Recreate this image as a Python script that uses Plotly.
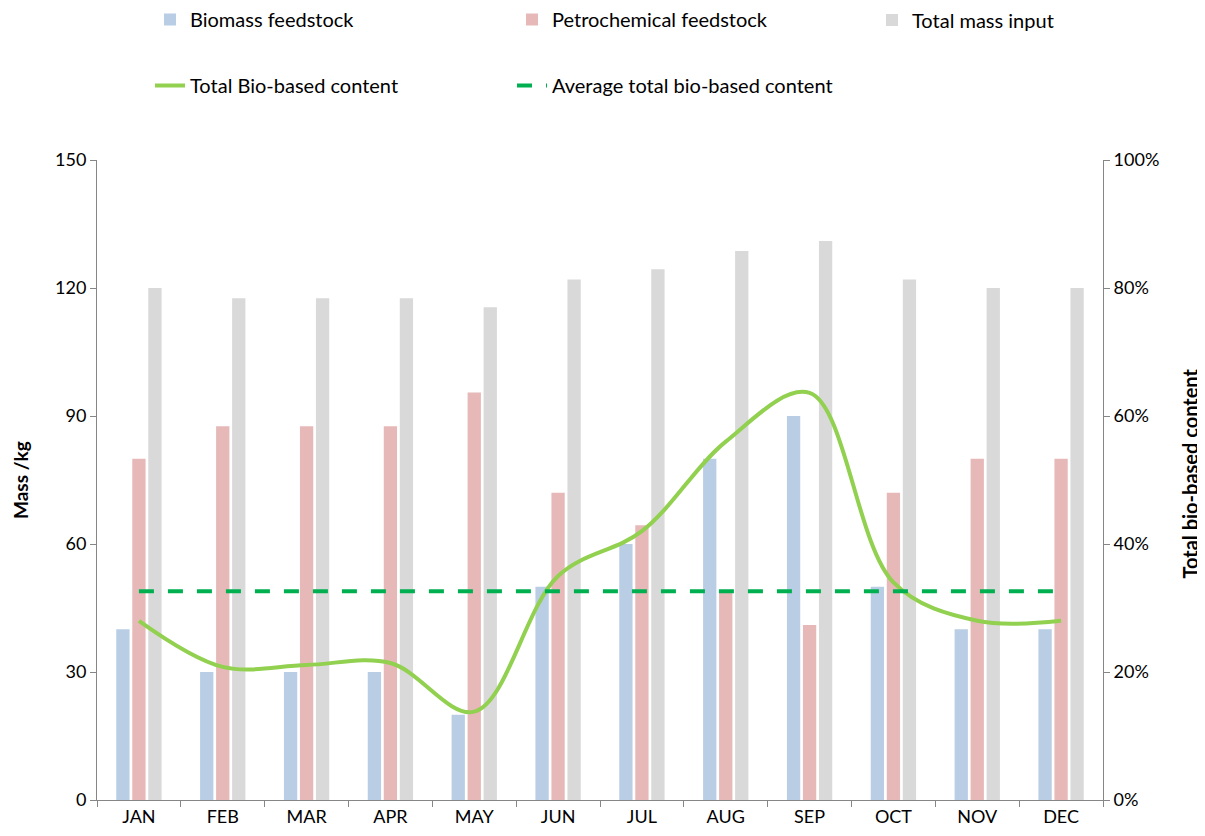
import plotly.graph_objects as go

months = ["JAN", "FEB", "MAR", "APR", "MAY", "JUN", "JUL", "AUG", "SEP", "OCT", "NOV", "DEC"]

# mass per month, kg
biomass = [40, 30, 30, 30, 20, 50, 60, 80, 90, 50, 40, 40]
petrochem = [80, 87.6, 87.6, 87.6, 95.5, 72, 64.4, 48.7, 41, 72, 80, 80]
total_mass = [120, 117.6, 117.6, 117.6, 115.5, 122, 124.4, 128.7, 131, 122, 120, 120]

# bio-based content (fraction)
bio_content = [0.28, 0.208, 0.211, 0.214, 0.138, 0.35, 0.42, 0.56, 0.636, 0.34, 0.28, 0.28]
avg_content = 0.326

font_fam = "Lato, Calibri, sans-serif"
axis_col = "#868686"

# the html body has an 8px margin, so the figure is 8px smaller than the window
W, H = 1197, 828

fig = go.Figure()

# legend columns: legend = col 1, legend2 = col 2, legend3 = col 3
fig.add_trace(go.Bar(x=months, y=biomass, name="Biomass feedstock",
                     legend="legend", legendgroup="a",
                     marker=dict(color="#B9CDE5", line=dict(width=0))))
fig.add_trace(go.Bar(x=months, y=petrochem, name="Petrochemical feedstock",
                     legend="legend2", legendgroup="c",
                     marker=dict(color="#E6B9B8", line=dict(width=0))))
fig.add_trace(go.Bar(x=months, y=total_mass, name="Total mass input",
                     legend="legend3", legendgroup="e",
                     marker=dict(color="#D9D9D9", line=dict(width=0))))

fig.add_trace(go.Scatter(x=months, y=bio_content, name="Total Bio-based content",
                         yaxis="y2", mode="lines", legend="legend", legendgroup="b",
                         line=dict(color="#92D050", width=4, shape="spline", smoothing=1.0)))
fig.add_trace(go.Scatter(x=[months[0], months[-1]], y=[avg_content, avg_content],
                         name="Average total bio-based content",
                         yaxis="y2", mode="lines", legend="legend2", legendgroup="d",
                         line=dict(color="#00B050", width=4, dash="15px,14px")))

leg = dict(orientation="v", xref="container", yref="container", xanchor="left",
           yanchor="middle", tracegroupgap=37, font=dict(size=20),
           bgcolor="rgba(0,0,0,0)", traceorder="grouped")

fig.update_layout(
    width=W, height=H,
    margin=dict(l=89, r=102, t=152, b=36, autoexpand=False),
    paper_bgcolor="white", plot_bgcolor="white",
    font=dict(family=font_fam, size=18, color="#000000"),
    barmode="group", bargap=0.427, bargroupgap=0.17,
    xaxis=dict(
        type="category", showgrid=False, showline=True, linecolor=axis_col, linewidth=1,
        ticks="outside", ticklen=6, tickcolor=axis_col, tickson="boundaries",
        tickfont=dict(size=18),
    ),
    yaxis=dict(
        range=[0, 150], dtick=30, showgrid=False, zeroline=False,
        showline=True, linecolor=axis_col, linewidth=1,
        ticks="outside", ticklen=6, tickcolor=axis_col, tickfont=dict(size=18),
    ),
    yaxis2=dict(
        range=[0, 1], dtick=0.2, tickformat=".0%", overlaying="y", side="right",
        showgrid=False, zeroline=False, showline=True, linecolor=axis_col, linewidth=1,
        ticks="outside", ticklen=6, tickcolor=axis_col, tickfont=dict(size=18),
    ),
    legend=dict(leg, x=142 / W, y=1 - 44.5 / H),
    legend2=dict(leg, x=504 / W, y=1 - 44.5 / H),
    legend3=dict(leg, x=864 / W, y=1 - 12 / H),
)

# axis titles
fig.add_annotation(text="<b>Mass /kg</b>", xref="paper", yref="paper", x=-0.0765, y=0.5,
                   xanchor="center", yanchor="middle", textangle=-90, showarrow=False,
                   font=dict(size=19))
fig.add_annotation(text="<b>Total bio-based content</b>", xref="paper", yref="paper",
                   x=1.0865, y=0.51, xanchor="center", yanchor="middle", textangle=-90,
                   showarrow=False, font=dict(size=20))

fig.write_html("out.html")
